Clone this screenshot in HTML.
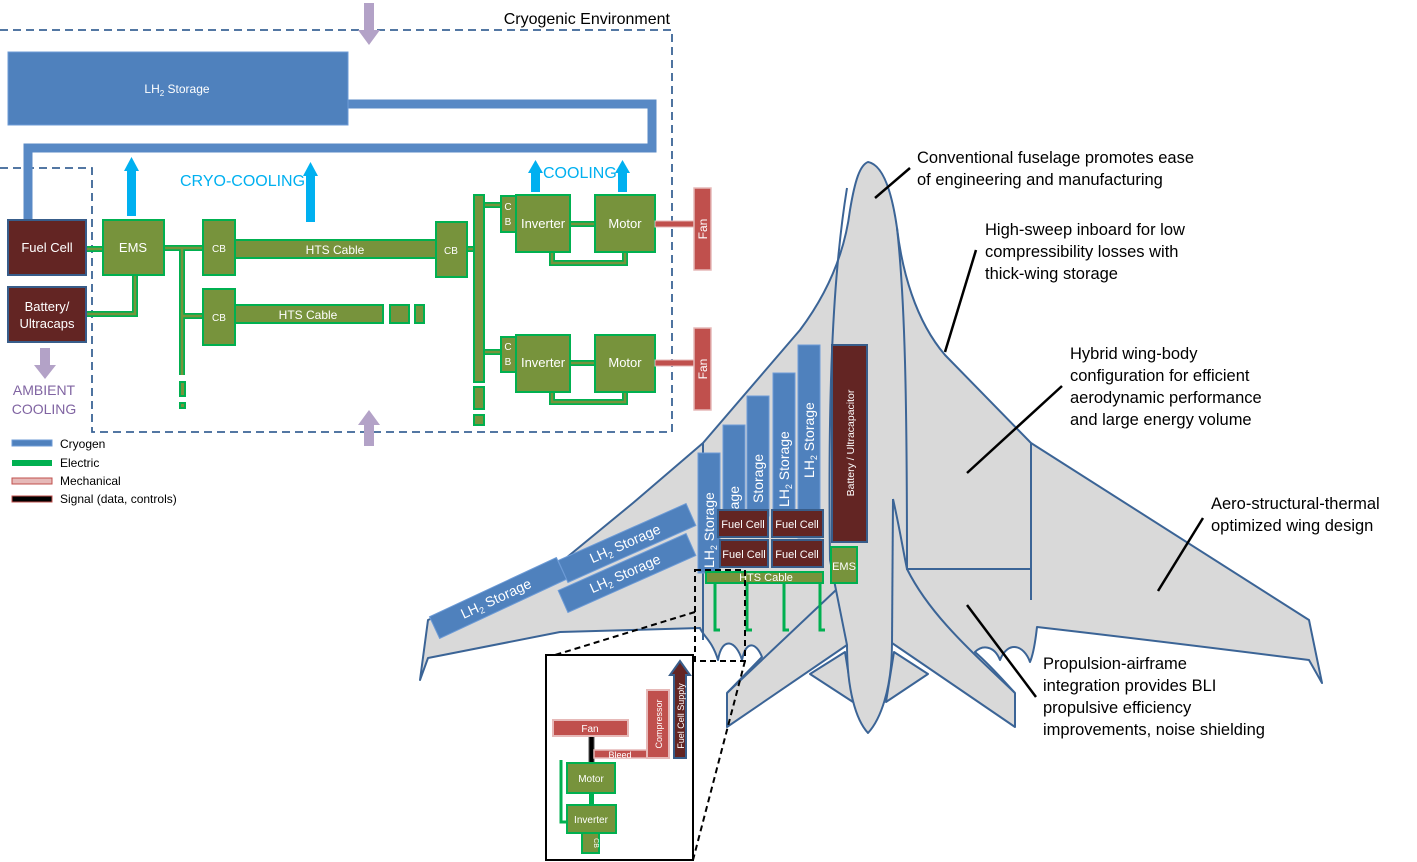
<!DOCTYPE html>
<html><head><meta charset="utf-8"><style>
html,body{margin:0;padding:0;background:#fff;}
svg{display:block;font-family:"Liberation Sans",sans-serif;}
</style></head><body>
<svg width="1417" height="862" viewBox="0 0 1417 862" xmlns="http://www.w3.org/2000/svg">
<!-- ===== Schematic ===== -->
<path d="M0,30 L672,30 L672,432 L92,432 L92,168 L0,168" fill="none" stroke="#3b6496" stroke-width="1.8" stroke-dasharray="8,5"/>
<text x="670" y="24" font-size="16" text-anchor="end" fill="#000">Cryogenic Environment</text>
<rect x="364" y="3" width="10" height="28" fill="#b3a2c7"/><path d="M358,30 L380,30 L369,45z" fill="#b3a2c7"/>
<path d="M358,425 L380,425 L369,410z" fill="#b3a2c7"/><rect x="364" y="424" width="10" height="22" fill="#b3a2c7"/>
<rect x="40" y="348" width="10" height="18" fill="#b3a2c7"/><path d="M34,365 L56,365 L45,379z" fill="#b3a2c7"/>
<text x="44" y="395" font-size="14" fill="#8064a2" text-anchor="middle">AMBIENT</text>
<text x="44" y="414" font-size="14" fill="#8064a2" text-anchor="middle">COOLING</text>
<path d="M347,104 L652,104 L652,148 L28,148 L28,222" fill="none" stroke="#4f81bd" stroke-width="9"/>
<path d="M347,104 L652,104 L652,148 L28,148 L28,222" fill="none" stroke="#6d9bd6" stroke-width="9" stroke-opacity="0.3"/>
<rect x="8" y="52" width="340" height="73" fill="#4f81bd" stroke="#6d9bd6" stroke-width="1"/>
<text x="177" y="93" font-size="12" fill="#fff" text-anchor="middle">LH<tspan font-size="8" dy="3">2</tspan><tspan dy="-3"> Storage</tspan></text>
<g fill="#00b0f0">
<rect x="127" y="170" width="9" height="46"/><path d="M124,171 L139,171 L131.5,157z"/>
<rect x="306" y="175" width="9" height="47"/><path d="M303,176 L318,176 L310.5,162z"/>
<rect x="531" y="172" width="9" height="20"/><path d="M528,173 L543,173 L535.5,160z"/>
<rect x="618" y="172" width="9" height="20"/><path d="M615,173 L630,173 L622.5,160z"/>
</g>
<text x="180" y="186" font-size="16" fill="#00b0f0">CRYO-COOLING</text>
<text x="543" y="178" font-size="16" fill="#00b0f0">COOLING</text>
<g stroke="#00b050" stroke-width="6" fill="none">
<path d="M86,249 L103,249"/><path d="M86,314 L135,314 L135,275"/><path d="M164,248 L203,248"/><path d="M182,248 L182,375"/><path d="M182,316 L203,316"/>
<path d="M467,249 L479,249"/><path d="M479,205 L501,205"/><path d="M479,352 L501,352"/><path d="M570,224 L595,224"/><path d="M570,363 L595,363"/>
<path d="M552,252 L552,263 L625,263 L625,252"/><path d="M552,392 L552,402 L625,402 L625,392"/>
</g>
<g stroke="#77933c" stroke-width="2.5" fill="none">
<path d="M86,249 L103,249"/><path d="M86,314 L135,314 L135,275"/><path d="M164,248 L203,248"/><path d="M182,248 L182,375"/><path d="M182,316 L203,316"/>
<path d="M467,249 L479,249"/><path d="M479,205 L501,205"/><path d="M479,352 L501,352"/><path d="M570,224 L595,224"/><path d="M570,363 L595,363"/>
<path d="M552,252 L552,263 L625,263 L625,252"/><path d="M552,392 L552,402 L625,402 L625,392"/>
</g>
<g fill="#77933c" stroke="#00b050" stroke-width="2">
<rect x="180" y="382" width="5" height="14"/><rect x="180" y="403" width="5" height="5"/>
<rect x="474" y="195" width="10" height="187"/>
<rect x="474" y="387" width="10" height="22"/><rect x="474" y="415" width="10" height="10"/>
<rect x="103" y="220" width="61" height="55"/>
<rect x="203" y="220" width="32" height="55"/>
<rect x="235" y="240" width="201" height="18"/>
<rect x="436" y="222" width="31" height="55"/>
<rect x="203" y="289" width="32" height="56"/>
<rect x="235" y="305" width="148" height="18"/>
<rect x="390" y="305" width="19" height="18"/><rect x="415" y="305" width="9" height="18"/>
<rect x="501" y="196" width="15" height="36"/>
<rect x="516" y="195" width="54" height="57"/>
<rect x="595" y="195" width="60" height="57"/>
<rect x="501" y="337" width="15" height="35"/>
<rect x="516" y="335" width="54" height="57"/>
<rect x="595" y="335" width="60" height="57"/>
</g>
<g fill="#fff" text-anchor="middle">
<text x="133" y="252" font-size="13">EMS</text>
<text x="219" y="252" font-size="10">CB</text>
<text x="335" y="254" font-size="12">HTS Cable</text>
<text x="451" y="254" font-size="10">CB</text>
<text x="219" y="321" font-size="10">CB</text>
<text x="308" y="319" font-size="12">HTS Cable</text>
<text x="508" y="210" font-size="10">C</text><text x="508" y="225" font-size="10">B</text>
<text x="543" y="228" font-size="13">Inverter</text>
<text x="625" y="228" font-size="13">Motor</text>
<text x="508" y="350" font-size="10">C</text><text x="508" y="365" font-size="10">B</text>
<text x="543" y="367" font-size="13">Inverter</text>
<text x="625" y="367" font-size="13">Motor</text>
</g>
<rect x="8" y="220" width="78" height="55" fill="#632523" stroke="#385d8a" stroke-width="2"/>
<rect x="8" y="287" width="78" height="55" fill="#632523" stroke="#385d8a" stroke-width="2"/>
<text x="47" y="252" font-size="13" fill="#fff" text-anchor="middle">Fuel Cell</text>
<text x="47" y="311" font-size="13" fill="#fff" text-anchor="middle">Battery/</text>
<text x="47" y="328" font-size="13" fill="#fff" text-anchor="middle">Ultracaps</text>
<rect x="655" y="221" width="39" height="6" fill="#c0504d" stroke="#e6b9b8" stroke-width="1"/>
<rect x="655" y="360" width="39" height="6" fill="#c0504d" stroke="#e6b9b8" stroke-width="1"/>
<rect x="694" y="188" width="17" height="82" fill="#c0504d" stroke="#e6b9b8" stroke-width="1.5"/>
<rect x="694" y="328" width="17" height="82" fill="#c0504d" stroke="#e6b9b8" stroke-width="1.5"/>
<text transform="translate(707,229) rotate(-90)" font-size="12" fill="#fff" text-anchor="middle">Fan</text>
<text transform="translate(707,369) rotate(-90)" font-size="12" fill="#fff" text-anchor="middle">Fan</text>
<rect x="12" y="440" width="40" height="6" fill="#4f81bd" stroke="#6d9bd6"/>
<rect x="12" y="460" width="40" height="6" fill="#00b050"/>
<rect x="12" y="478" width="40" height="6" fill="#e6b9b8" stroke="#c0504d"/>
<rect x="12" y="496" width="40" height="6" fill="#000" stroke="#c0504d"/>
<g font-size="12" fill="#000">
<text x="60" y="448">Cryogen</text><text x="60" y="467">Electric</text><text x="60" y="485">Mechanical</text><text x="60" y="503">Signal (data, controls)</text>
</g>
<!-- ===== Aircraft ===== -->
<g fill="#d9d9d9" stroke="#3b6496" stroke-width="2" stroke-linejoin="round">
<path d="M845,652 L810,674 L853,702 Z"/>
<path d="M894,652 L928,674 L886,702 Z"/>
<path d="M868,162 C885,165 893,200 897,228 C902,270 915,320 945,355 L1031,443 L1309,620 L1322,683 L1309,660 Q1150,640 1037,627 C1035,645 1033,655 1030,662 C1024,645 1008,640 1000,660 C994,645 982,645 975,652 C990,665 1003,680 1015,693 L1015,727 L892,643 C892,690 880,720 868,733 C856,720 847,690 847,645 L727,727 L727,693 L762,657 C756,642 746,640 742,660 C736,640 722,636 718,660 C712,640 703,636 700,628 L560,632 L428,658 L420,680 L428,620 L560,563 L633,503 L703,443 L800,330 C830,290 845,250 850,210 C855,180 860,165 868,162 Z"/>
</g>
<g fill="none" stroke="#3b6496" stroke-width="2">
<path d="M897,228 C905,300 907,400 907,569 L1031,569"/>
<path d="M1031,443 L1031,600"/>
<path d="M893,499 C900,530 903,550 907,569 C930,615 970,650 1015,693"/>
<path d="M893,499 L892,643"/>
<path d="M847,188 C832,280 828,400 830,560 L847,645"/>
<path d="M836,590 L727,693"/>
<path d="M703,443 L703,640"/>
</g>
<g stroke="#000" stroke-width="2.5">
<line x1="875" y1="198" x2="910" y2="168"/>
<line x1="945" y1="352" x2="976" y2="250"/>
<line x1="967" y1="473" x2="1062" y2="386"/>
<line x1="1158" y1="591" x2="1203" y2="518"/>
<line x1="967" y1="605" x2="1036" y2="697"/>
</g>
<g font-size="16.5" fill="#000">
<text x="917" y="163">Conventional fuselage promotes ease</text>
<text x="917" y="185">of engineering and manufacturing</text>
<text x="985" y="235">High-sweep inboard for low</text>
<text x="985" y="257">compressibility losses with</text>
<text x="985" y="279">thick-wing storage</text>
<text x="1070" y="359">Hybrid wing-body</text>
<text x="1070" y="381">configuration for efficient</text>
<text x="1070" y="403">aerodynamic performance</text>
<text x="1070" y="425">and large energy volume</text>
<text x="1211" y="509">Aero-structural-thermal</text>
<text x="1211" y="531">optimized wing design</text>
<text x="1043" y="669">Propulsion-airframe</text>
<text x="1043" y="691">integration provides BLI</text>
<text x="1043" y="713">propulsive efficiency</text>
<text x="1043" y="735">improvements, noise shielding</text>
</g>
<g fill="#4f81bd" stroke="#6d9bd6" stroke-width="1">
<rect x="-70" y="-12" width="140" height="24" transform="translate(498,598) rotate(-25)"/>
<rect x="-70" y="-12" width="140" height="24" transform="translate(627,543) rotate(-24)"/>
<rect x="-70" y="-12" width="140" height="24" transform="translate(627,573) rotate(-24)"/>
</g>
<g fill="#fff" font-size="14" text-anchor="middle">
<text transform="translate(498,603) rotate(-25)">LH<tspan font-size="9" dy="3">2</tspan><tspan dy="-3"> Storage</tspan></text>
<text transform="translate(627,548) rotate(-24)">LH<tspan font-size="9" dy="3">2</tspan><tspan dy="-3"> Storage</tspan></text>
<text transform="translate(627,578) rotate(-24)">LH<tspan font-size="9" dy="3">2</tspan><tspan dy="-3"> Storage</tspan></text>
</g>
<g fill="#4f81bd" stroke="#6d9bd6" stroke-width="1">
<rect x="698" y="453" width="22" height="120"/>
<rect x="723" y="425" width="22" height="90"/>
<rect x="747" y="396" width="22" height="120"/>
<rect x="773" y="373" width="22" height="140"/>
<rect x="798" y="345" width="22" height="193"/>
</g>
<g fill="#fff" font-size="14">
<text transform="translate(714,568) rotate(-90)">LH<tspan font-size="9" dy="3">2</tspan><tspan dy="-3"> Storage</tspan></text>
<text transform="translate(739,486) rotate(-90)" text-anchor="end">LH<tspan font-size="9" dy="3">2</tspan><tspan dy="-3"> Storage</tspan></text>
<text transform="translate(763,503) rotate(-90)">Storage</text>
<text transform="translate(789,507) rotate(-90)">LH<tspan font-size="9" dy="3">2</tspan><tspan dy="-3"> Storage</tspan></text>
<text transform="translate(814,478) rotate(-90)">LH<tspan font-size="9" dy="3">2</tspan><tspan dy="-3"> Storage</tspan></text>
</g>
<rect x="832" y="345" width="35" height="197" fill="#632523" stroke="#385d8a" stroke-width="2"/>
<text transform="translate(854,443) rotate(-90)" font-size="10.5" fill="#fff" text-anchor="middle">Battery / Ultracapacitor</text>
<g fill="#632523" stroke="#385d8a" stroke-width="2">
<rect x="718" y="510" width="50" height="27"/><rect x="772" y="510" width="51" height="27"/>
<rect x="720" y="540" width="48" height="27"/><rect x="772" y="540" width="51" height="27"/>
</g>
<g fill="#fff" font-size="11" text-anchor="middle">
<text x="743" y="528">Fuel Cell</text><text x="797" y="528">Fuel Cell</text>
<text x="744" y="558">Fuel Cell</text><text x="797" y="558">Fuel Cell</text>
</g>
<rect x="831" y="547" width="26" height="36" fill="#77933c" stroke="#00b050" stroke-width="2"/>
<text x="844" y="570" font-size="11" fill="#fff" text-anchor="middle">EMS</text>
<rect x="706" y="572" width="117" height="11" fill="#77933c" stroke="#00b050" stroke-width="2"/>
<text x="766" y="581" font-size="11" fill="#fff" text-anchor="middle">HTS Cable</text>
<g stroke="#00b050" stroke-width="3" fill="none">
<path d="M715,583 L715,630 L720,630"/><path d="M747,583 L747,630 L752,630"/><path d="M784,583 L784,630 L789,630"/><path d="M820,583 L820,630 L825,630"/>
</g>
<rect x="695" y="570" width="50" height="91" fill="none" stroke="#000" stroke-width="2" stroke-dasharray="6,4"/>
<path d="M695,612 L555,655 M745,661 L693,860" stroke="#000" stroke-width="2" stroke-dasharray="6,4" fill="none"/>
<rect x="546" y="655" width="147" height="205" fill="#fff" stroke="#000" stroke-width="2"/>
<rect x="589" y="736" width="5" height="27" fill="#000" stroke="#555"/>
<path d="M561,760 L561,822 L567,822" stroke="#00b050" stroke-width="3" fill="none"/>
<rect x="589" y="793" width="5" height="12" fill="#00b050"/>
<rect x="553" y="720" width="75" height="16" fill="#c0504d" stroke="#e6b9b8" stroke-width="2"/>
<text x="590" y="732" font-size="10" fill="#fff" text-anchor="middle">Fan</text>
<rect x="594" y="750" width="53" height="8" fill="#c0504d" stroke="#e6b9b8" stroke-width="1.5"/>
<text x="620" y="758" font-size="9" fill="#fff" text-anchor="middle">Bleed</text>
<rect x="647" y="690" width="22" height="68" fill="#c0504d" stroke="#e6b9b8" stroke-width="2"/>
<text transform="translate(662,724) rotate(-90)" font-size="9" fill="#fff" text-anchor="middle">Compressor</text>
<path d="M674,758 L674,675 L670,675 L680,661 L690,675 L686,675 L686,758 Z" fill="#632523" stroke="#385d8a" stroke-width="2"/>
<text transform="translate(684,716) rotate(-90)" font-size="9" fill="#fff" text-anchor="middle">Fuel Cell Supply</text>
<rect x="567" y="763" width="48" height="30" fill="#77933c" stroke="#00b050" stroke-width="2"/>
<text x="591" y="782" font-size="10" fill="#fff" text-anchor="middle">Motor</text>
<rect x="567" y="805" width="49" height="28" fill="#77933c" stroke="#00b050" stroke-width="2"/>
<text x="591" y="823" font-size="10" fill="#fff" text-anchor="middle">Inverter</text>
<rect x="582" y="833" width="17" height="20" fill="#77933c" stroke="#00b050" stroke-width="2"/>
<text transform="translate(594,843) rotate(90)" font-size="7" fill="#fff" text-anchor="middle">CB</text>
</svg>
</body></html>
